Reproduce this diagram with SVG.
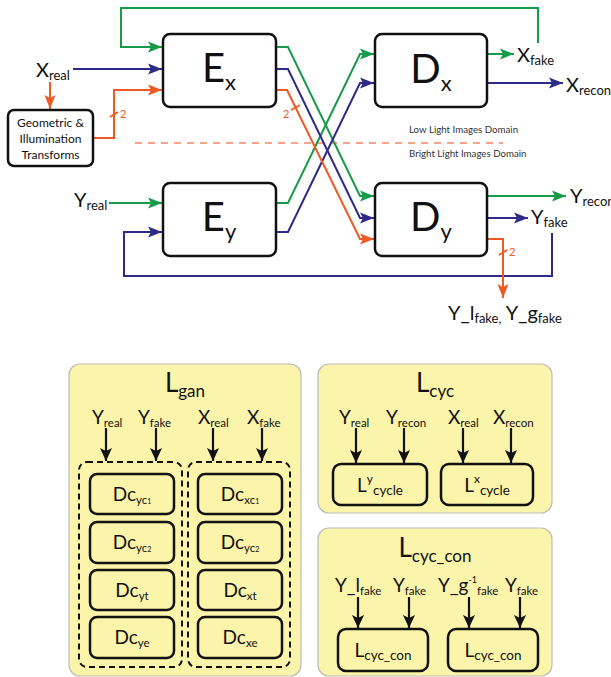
<svg xmlns="http://www.w3.org/2000/svg" width="611" height="677" viewBox="0 0 611 677">
  <style>
    text { font-family: Lato, "Open Sans", "Liberation Sans", sans-serif; fill: #111; }
    .node { fill: #fff; stroke: #111; stroke-width: 2.5; }
    .big { font-size: 40px; }
    .bigsub { font-size: 22px; }
    .lbl { font-size: 20px; }
    .sub { font-size: 13px; }
    .small { font-size: 12px; }
    .dom { font-size: 9.7px; fill: #333; }
    .two { font-size: 11px; fill: #ee5a24; }
    .g { fill: none; stroke: #169b48; stroke-width: 2; }
    .b { fill: none; stroke: #2d2a88; stroke-width: 2; }
    .o { fill: none; stroke: #ee5a24; stroke-width: 2; }
    .k { fill: none; stroke: #111; stroke-width: 2.2; }
    .panel { fill: #fbf4ab; stroke: #bcbcbc; stroke-width: 1.2; }
    .inner { fill: none; stroke: #111; stroke-width: 2.5; }
    .dash { fill: none; stroke: #111; stroke-width: 2; stroke-dasharray: 6 4; }
    .ttl { font-size: 26px; }
    .ttlsub { font-size: 17px; }
    .pl { font-size: 19px; }
    .ps { font-size: 11.5px; }
  </style>
  <defs>
    <marker id="ag" markerUnits="userSpaceOnUse" markerWidth="15" markerHeight="12" refX="14" refY="6" orient="auto">
      <path d="M0,0.5 L14,6 L0,11.5 L3,6 z" fill="#169b48"/>
    </marker>
    <marker id="ab" markerUnits="userSpaceOnUse" markerWidth="15" markerHeight="12" refX="14" refY="6" orient="auto">
      <path d="M0,0.5 L14,6 L0,11.5 L3,6 z" fill="#2d2a88"/>
    </marker>
    <marker id="ao" markerUnits="userSpaceOnUse" markerWidth="15" markerHeight="12" refX="14" refY="6" orient="auto">
      <path d="M0,0.5 L14,6 L0,11.5 L3,6 z" fill="#ee5a24"/>
    </marker>
    <marker id="ak" markerUnits="userSpaceOnUse" markerWidth="14" markerHeight="14" refX="13" refY="7" orient="auto">
      <path d="M0,1 L13,7 L0,13 L3,7 z" fill="#111"/>
    </marker>
  </defs>

  <!-- domain separator -->
  <line x1="135" y1="143" x2="503" y2="143" stroke="#f5a58c" stroke-width="2" stroke-dasharray="7 6"/>
  <text class="dom" x="409" y="133">Low Light Images Domain</text>
  <text class="dom" x="409" y="157">Bright Light Images Domain</text>

  <!-- connectors -->
  <g id="connectors">
    <!-- green -->
    <path class="g" d="M538,43 V8 H121 V47 H162" marker-end="url(#ag)"/>
    <path class="g" d="M109,203 H162" marker-end="url(#ag)"/>
    <path class="g" d="M276,47 H288 L360,196 H374" marker-end="url(#ag)"/>
    <path class="g" d="M276,203 H288 L360,54 H374" marker-end="url(#ag)"/>
    <path class="g" d="M487,54 H514" marker-end="url(#ag)"/>
    <path class="g" d="M487,196 H566" marker-end="url(#ag)"/>
    <!-- blue -->
    <path class="b" d="M73,69 H162" marker-end="url(#ab)"/>
    <path class="b" d="M276,69 H288 L360,218 H374" marker-end="url(#ab)"/>
    <path class="b" d="M276,232 H288 L360,83 H374" marker-end="url(#ab)"/>
    <path class="b" d="M487,83 H563" marker-end="url(#ab)"/>
    <path class="b" d="M487,218 H528" marker-end="url(#ab)"/>
    <path class="b" d="M552,233 V276 H124 V232 H162" marker-end="url(#ab)"/>
    <!-- orange -->
    <path class="o" d="M50,82 V109" marker-end="url(#ao)"/>
    <path class="o" d="M93,138 H114 V90 H162" marker-end="url(#ao)"/>
    <path class="o" d="M276,90 H287 L360,239 H374" marker-end="url(#ao)"/>
    <path class="o" d="M487,239 H503 V298" marker-end="url(#ao)"/>
    <!-- bus width marks -->
    <line class="o" stroke-width="1.2" x1="110" y1="117" x2="118" y2="112"/>
    <text class="two" x="120" y="118">2</text>
    <line class="o" stroke-width="1.2" x1="291" y1="110" x2="300" y2="105"/>
    <text class="two" x="283" y="118">2</text>
    <line class="o" stroke-width="1.2" x1="499" y1="255" x2="507" y2="250"/>
    <text class="two" x="509" y="256">2</text>
  </g>

  <!-- signal labels -->
  <text class="lbl" x="36" y="77">X<tspan class="sub" dy="3">real</tspan></text>
  <text class="lbl" x="517" y="62">X<tspan class="sub" dy="3">fake</tspan></text>
  <text class="lbl" x="566" y="92">X<tspan class="sub" dy="3">recon</tspan></text>
  <text class="lbl" x="74" y="207">Y<tspan class="sub" dy="3">real</tspan></text>
  <text class="lbl" x="570" y="203">Y<tspan class="sub" dy="3">recon</tspan></text>
  <text class="lbl" x="531" y="224">Y<tspan class="sub" dy="3">fake</tspan></text>
  <text class="lbl" x="448" y="320">Y_l<tspan class="sub" dy="3">fake,</tspan><tspan dy="-3"> Y_g</tspan><tspan class="sub" dy="3">fake</tspan></text>

  <!-- nodes -->
  <g id="transforms">
    <rect class="node" x="8" y="110" width="85" height="56" rx="6"/>
    <text class="small" x="50.5" y="127" text-anchor="middle">Geometric &amp;</text>
    <text class="small" x="50.5" y="143" text-anchor="middle">Illumination</text>
    <text class="small" x="50.5" y="159" text-anchor="middle">Transforms</text>
  </g>
  <g id="Ex">
    <rect class="node" x="163" y="34" width="113" height="73" rx="7"/>
    <text class="big" x="219" y="82" text-anchor="middle">E<tspan class="bigsub" dy="8">x</tspan></text>
  </g>
  <g id="Dx">
    <rect class="node" x="375" y="34" width="112" height="73" rx="7"/>
    <text class="big" x="431" y="83" text-anchor="middle">D<tspan class="bigsub" dy="8">x</tspan></text>
  </g>
  <g id="Ey">
    <rect class="node" x="163" y="183" width="113" height="73" rx="7"/>
    <text class="big" x="219" y="231" text-anchor="middle">E<tspan class="bigsub" dy="8">y</tspan></text>
  </g>
  <g id="Dy">
    <rect class="node" x="375" y="183" width="112" height="73" rx="7"/>
    <text class="big" x="431" y="231" text-anchor="middle">D<tspan class="bigsub" dy="8">y</tspan></text>
  </g>

  <!-- adversarial loss panel -->
  <g id="Lgan">
    <rect class="panel" x="69" y="364" width="232" height="312" rx="11"/>
    <text class="ttl" x="185" y="392" text-anchor="middle">L<tspan class="ttlsub" dy="5">gan</tspan></text>
    <text class="pl" x="92" y="424">Y<tspan class="ps" dy="3">real</tspan></text>
    <text class="pl" x="138" y="424">Y<tspan class="ps" dy="3">fake</tspan></text>
    <text class="pl" x="198" y="424">X<tspan class="ps" dy="3">real</tspan></text>
    <text class="pl" x="247" y="424">X<tspan class="ps" dy="3">fake</tspan></text>
    <path class="k" d="M106,428 V461" marker-end="url(#ak)"/>
    <path class="k" d="M156,428 V461" marker-end="url(#ak)"/>
    <path class="k" d="M213,428 V461" marker-end="url(#ak)"/>
    <path class="k" d="M262,428 V461" marker-end="url(#ak)"/>
    <rect class="dash" x="79" y="462" width="103" height="205" rx="8"/>
    <rect class="dash" x="188" y="462" width="102" height="205" rx="8"/>
    <rect class="inner" x="90" y="474" width="84" height="40" rx="7"/>
    <rect class="inner" x="90" y="522" width="84" height="41" rx="7"/>
    <rect class="inner" x="90" y="570" width="84" height="40" rx="7"/>
    <rect class="inner" x="90" y="617" width="84" height="41" rx="7"/>
    <rect class="inner" x="198" y="474" width="84" height="40" rx="7"/>
    <rect class="inner" x="198" y="522" width="84" height="41" rx="7"/>
    <rect class="inner" x="198" y="570" width="84" height="40" rx="7"/>
    <rect class="inner" x="198" y="617" width="84" height="41" rx="7"/>
    <text class="pl" x="132" y="501" text-anchor="middle">Dc<tspan class="ps" dy="3">yc</tspan><tspan font-size="7">1</tspan></text>
    <text class="pl" x="132" y="549" text-anchor="middle">Dc<tspan class="ps" dy="3">yc</tspan><tspan font-size="7">2</tspan></text>
    <text class="pl" x="132" y="597" text-anchor="middle">Dc<tspan class="ps" dy="3">yt</tspan></text>
    <text class="pl" x="132" y="644" text-anchor="middle">Dc<tspan class="ps" dy="3">ye</tspan></text>
    <text class="pl" x="240" y="501" text-anchor="middle">Dc<tspan class="ps" dy="3">xc</tspan><tspan font-size="7">1</tspan></text>
    <text class="pl" x="240" y="549" text-anchor="middle">Dc<tspan class="ps" dy="3">yc</tspan><tspan font-size="7">2</tspan></text>
    <text class="pl" x="240" y="597" text-anchor="middle">Dc<tspan class="ps" dy="3">xt</tspan></text>
    <text class="pl" x="240" y="644" text-anchor="middle">Dc<tspan class="ps" dy="3">xe</tspan></text>
  </g>

  <!-- cycle loss panel -->
  <g id="Lcyc">
    <rect class="panel" x="318" y="364" width="234" height="149" rx="11"/>
    <text class="ttl" x="435" y="392" text-anchor="middle">L<tspan class="ttlsub" dy="5">cyc</tspan></text>
    <text class="pl" x="339" y="424">Y<tspan class="ps" dy="3">real</tspan></text>
    <text class="pl" x="386" y="424">Y<tspan class="ps" dy="3">recon</tspan></text>
    <text class="pl" x="448" y="424">X<tspan class="ps" dy="3">real</tspan></text>
    <text class="pl" x="493" y="424">X<tspan class="ps" dy="3">recon</tspan></text>
    <path class="k" d="M356,428 V463" marker-end="url(#ak)"/>
    <path class="k" d="M404,428 V463" marker-end="url(#ak)"/>
    <path class="k" d="M463,428 V463" marker-end="url(#ak)"/>
    <path class="k" d="M511,428 V463" marker-end="url(#ak)"/>
    <rect class="inner" x="333" y="464" width="94" height="41" rx="8"/>
    <rect class="inner" x="441" y="464" width="92" height="41" rx="8"/>
    <text class="pl" x="380" y="492" text-anchor="middle">L<tspan font-size="12" dy="-9">y</tspan><tspan font-size="13.5" dy="12">cycle</tspan></text>
    <text class="pl" x="487" y="492" text-anchor="middle">L<tspan font-size="12" dy="-9">x</tspan><tspan font-size="13.5" dy="12">cycle</tspan></text>
  </g>

  <!-- cycle consistency loss panel -->
  <g id="Lcyc_con">
    <rect class="panel" x="318" y="528" width="234" height="148" rx="11"/>
    <text class="ttl" x="435" y="557" text-anchor="middle">L<tspan class="ttlsub" dy="5">cyc_con</tspan></text>
    <text class="pl" x="335" y="592">Y_l<tspan class="ps" dy="3">fake</tspan></text>
    <text class="pl" x="393" y="592">Y<tspan class="ps" dy="3">fake</tspan></text>
    <text class="pl" x="438" y="592">Y_g<tspan font-size="9" dy="-9">-1</tspan><tspan class="ps" dy="12">fake</tspan></text>
    <text class="pl" x="505" y="592">Y<tspan class="ps" dy="3">fake</tspan></text>
    <path class="k" d="M358,597 V628" marker-end="url(#ak)"/>
    <path class="k" d="M409,597 V628" marker-end="url(#ak)"/>
    <path class="k" d="M469,597 V628" marker-end="url(#ak)"/>
    <path class="k" d="M520,597 V628" marker-end="url(#ak)"/>
    <rect class="inner" x="338" y="629" width="90" height="42" rx="8"/>
    <rect class="inner" x="448" y="629" width="90" height="42" rx="8"/>
    <text class="pl" x="383" y="657" text-anchor="middle">L<tspan font-size="13.5" dy="3">cyc_con</tspan></text>
    <text class="pl" x="493" y="657" text-anchor="middle">L<tspan font-size="13.5" dy="3">cyc_con</tspan></text>
  </g>
</svg>
